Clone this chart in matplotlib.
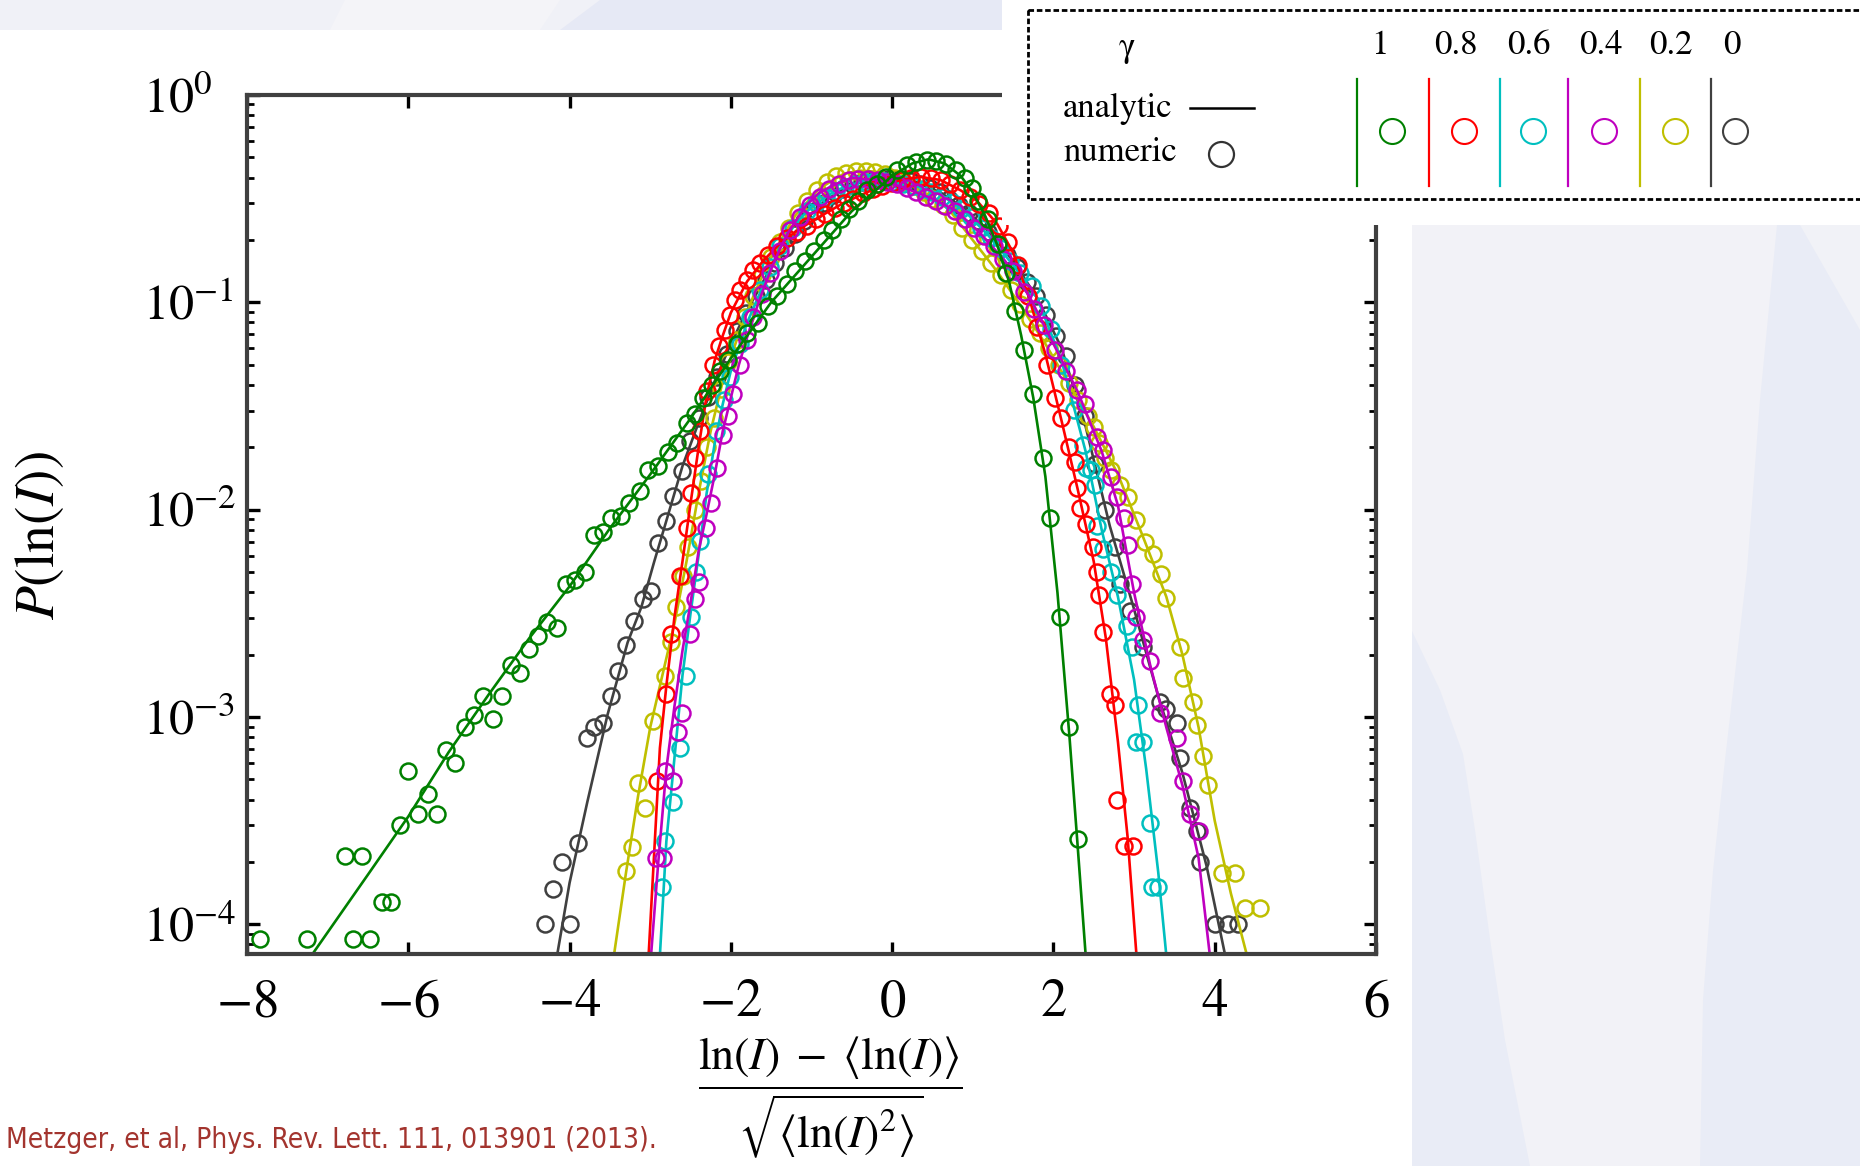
import numpy as np
import matplotlib
matplotlib.use("Agg")
import matplotlib.pyplot as plt
from matplotlib.patches import Rectangle, Polygon
from matplotlib.ticker import LogLocator, NullFormatter

plt.rcParams['mathtext.fontset'] = 'stix'
plt.rcParams['font.family'] = ['STIXGeneral', 'DejaVu Sans']

# ---------------- data (x, log10 P) ----------------
gamma_labels = ['1', '0.8', '0.6', '0.4', '0.2', '0']
colors = {'g1': '#008000', 'g08': '#ff0000', 'g06': '#00bfbf',
          'g04': '#bf00bf', 'g02': '#bfbf00', 'g0': '#404040'}

x_ticks = [-8, -6, -4, -2, 0, 2, 4, 6]
x_tick_labels = ['$-8$', '$-6$', '$-4$', '$-2$', '$0$', '$2$', '$4$', '$6$']
y_ticks = [1e-4, 1e-3, 1e-2, 1e-1, 1e0]
y_tick_labels = ['$10^{-4}$', '$10^{-3}$', '$10^{-2}$', '$10^{-1}$', '$10^{0}$']

# gamma = 1 (green)
g1_line_x = [-7.20, -6.50, -6.00, -5.50, -5.00, -4.50, -4.00, -3.50, -3.00, -2.50, -2.00, -1.50, -1.00, -0.50,
             0.00, 0.25, 0.45, 0.65, 0.85, 1.00, 1.15, 1.30, 1.45, 1.60, 1.75, 1.90, 2.05, 2.20, 2.30, 2.40]
g1_line_lp = [-4.15, -3.76, -3.48, -3.17, -2.89, -2.62, -2.37, -2.09, -1.83, -1.56, -1.27, -1.00, -0.78, -0.56,
              -0.39, -0.33, -0.31, -0.33, -0.39, -0.47, -0.58, -0.72, -0.90, -1.16, -1.46, -1.84, -2.40, -3.10, -3.62, -4.15]
g1_pts_x = [-7.84, -7.25, -6.79, -6.68, -6.57, -6.47, -6.32, -6.22, -6.10, -6.00, -5.875, -5.76, -5.65, -5.53,
            -5.42, -5.30, -5.19, -5.07, -4.95, -4.84, -4.73, -4.61, -4.50, -4.39, -4.28, -4.15, -4.05, -3.93,
            -3.81, -3.70, -3.59, -3.49, -3.36, -3.26, -3.13, -3.03, -2.90, -2.78, -2.67, -2.55, -2.45, -2.34,
            -2.24, -2.13, -2.03, -1.93, -1.80, -1.66, -1.54, -1.43, -1.31, -1.20, -1.08, -0.97, -0.85, -0.75,
            -0.64, -0.53, -0.42, -0.31, -0.19, -0.07, 0.06, 0.18, 0.30, 0.43, 0.55, 0.67, 0.79, 0.90, 0.99,
            1.07, 1.19, 1.31, 1.41, 1.52, 1.63, 1.75, 1.87, 1.96, 2.08, 2.19, 2.31]
g1_pts_lp = [-4.07, -4.07, -3.67, -4.07, -3.67, -4.07, -3.89, -3.89, -3.52, -3.26, -3.47, -3.37, -3.47, -3.16,
             -3.22, -3.05, -2.99, -2.90, -3.01, -2.90, -2.75, -2.79, -2.67, -2.61, -2.54, -2.57, -2.36, -2.34,
             -2.30, -2.12, -2.11, -2.04, -2.03, -1.97, -1.91, -1.81, -1.79, -1.72, -1.68, -1.58, -1.54, -1.46,
             -1.40, -1.33, -1.28, -1.20, -1.15, -1.10, -1.02, -0.97, -0.91, -0.85, -0.80, -0.75, -0.70, -0.65,
             -0.60, -0.55, -0.51, -0.46, -0.43, -0.395, -0.36, -0.338, -0.322, -0.314, -0.32, -0.335, -0.36, -0.40, -0.45,
             -0.51, -0.60, -0.72, -0.86, -1.04, -1.23, -1.44, -1.75, -2.04, -2.52, -3.05, -3.59]

# gamma = 0.8 (red)
g08_line_x = [-3.02, -2.95, -2.88, -2.80, -2.70, -2.60, -2.50, -2.40, -2.30, -2.20, -2.10, -2.00, -1.80, -1.60,
              -1.40, -1.20, -1.00, -0.60, -0.20, 0.10, 0.35, 0.60, 0.85, 1.05, 1.30, 1.50, 1.70, 1.90, 2.10,
              2.30, 2.50, 2.65, 2.80, 2.92, 3.03]
g08_line_lp = [-4.15, -3.65, -3.15, -2.85, -2.52, -2.25, -1.97, -1.70, -1.45, -1.28, -1.16, -1.05, -0.90, -0.80,
               -0.72, -0.66, -0.61, -0.52, -0.45, -0.41, -0.395, -0.41, -0.46, -0.51, -0.62, -0.76, -0.98, -1.25, -1.57,
               -1.90, -2.25, -2.62, -3.12, -3.58, -4.15]
g08_pts_x = [-2.92, -2.80, -2.74, -2.63, -2.55, -2.49, -2.44, -2.38, -2.30, -2.22, -2.15, -2.07, -2.01, -1.95,
             -1.89, -1.80, -1.72, -1.64, -1.54, -1.43, -1.31, -1.18, -1.06, -0.95, -0.83, -0.71, -0.60, -0.48,
             -0.36, -0.24, -0.12, 0.00, 0.12, 0.24, 0.36, 0.48, 0.60, 0.72, 0.84, 0.96, 1.08, 1.20, 1.32, 1.44,
             1.56, 1.68, 1.80, 1.92, 2.02, 2.10, 2.19, 2.27, 2.29, 2.33, 2.41, 2.495, 2.54, 2.56, 2.62, 2.70,
             2.76, 2.785, 2.87, 2.99]
g08_pts_lp = [-3.31, -2.89, -2.60, -2.32, -2.09, -1.92, -1.75, -1.62, -1.43, -1.30, -1.21, -1.135, -1.06, -0.99,
              -0.94, -0.89, -0.845, -0.81, -0.77, -0.73, -0.69, -0.66, -0.63, -0.60, -0.575, -0.545, -0.52, -0.50,
              -0.475, -0.455, -0.44, -0.425, -0.41, -0.40, -0.395, -0.40, -0.41, -0.43, -0.46, -0.49, -0.525, -0.57, -0.63, -0.71,
              -0.82, -0.97, -1.12, -1.30, -1.46, -1.56, -1.70, -1.77, -1.895, -1.99, -2.07, -2.18, -2.30, -2.41, -2.59, -2.89,
              -2.94, -3.40, -3.62, -3.62]

# gamma = 0.6 (cyan)
g06_line_x = [-2.88, -2.80, -2.70, -2.60, -2.50, -2.40, -2.30, -2.20, -2.10, -2.00, -1.80, -1.60, -1.40, -1.20,
              -1.00, -0.70, -0.40, -0.20, 0.00, 0.30, 0.60, 0.90, 1.20, 1.50, 1.80, 2.10, 2.40, 2.60, 2.80, 3.00,
              3.15, 3.30, 3.40]
g06_line_lp = [-4.15, -3.60, -3.20, -2.80, -2.50, -2.22, -1.92, -1.68, -1.49, -1.33, -1.10, -0.92, -0.74, -0.62,
               -0.54, -0.46, -0.42, -0.415, -0.42, -0.44, -0.48, -0.56, -0.68, -0.82, -0.98, -1.28, -1.72, -2.10, -2.42, -2.82,
               -3.25, -3.75, -4.15]
g06_pts_x = [-2.86, -2.82, -2.72, -2.63, -2.56, -2.49, -2.43, -2.38, -2.28, -2.18, -2.09, -2.01, -1.89, -1.76,
             -1.64, -1.52, -1.39, -1.23, -1.06, -0.94, -0.82, -0.70, -0.58, -0.46, -0.34, -0.22, -0.10, 0.02,
             0.14, 0.26, 0.38, 0.50, 0.62, 0.74, 0.86, 0.98, 1.10, 1.22, 1.34, 1.46, 1.58, 1.73, 1.85, 1.97,
             2.10, 2.25, 2.37, 2.41, 2.47, 2.515, 2.54, 2.62, 2.72, 2.785, 2.91, 2.97, 3.05, 3.03, 3.11, 3.20,
             3.22, 3.30]
g06_pts_lp = [-3.82, -3.60, -3.41, -3.15, -2.80, -2.52, -2.30, -2.15, -1.83, -1.62, -1.47, -1.36, -1.20, -1.07,
              -0.94, -0.83, -0.73, -0.64, -0.56, -0.52, -0.49, -0.465, -0.445, -0.43, -0.42, -0.415, -0.415, -0.42,
              -0.43, -0.44, -0.455, -0.47, -0.49, -0.515, -0.55, -0.59, -0.64, -0.69, -0.74, -0.80, -0.86, -0.92, -1.02, -1.13,
              -1.30, -1.52, -1.69, -1.80, -1.81, -1.88, -2.08, -2.19, -2.30, -2.41, -2.56, -2.66, -2.94, -3.12, -3.12, -3.51,
              -3.82, -3.82]

# gamma = 0.4 (magenta)
g04_line_x = [-2.99, -2.90, -2.80, -2.70, -2.60, -2.50, -2.40, -2.30, -2.20, -2.10, -2.00, -1.90, -1.80, -1.70,
              -1.60, -1.50, -1.40, -1.30, -1.20, -1.06, -0.90, -0.70, -0.50, -0.20, 0.10, 0.50, 0.80, 1.10, 1.40,
              1.70, 2.00, 2.30, 2.60, 2.80, 3.00, 3.20, 3.40, 3.60, 3.80, 3.94]
g04_line_lp = [-4.15, -3.70, -3.25, -2.95, -2.68, -2.45, -2.20, -2.02, -1.83, -1.62, -1.46, -1.30, -1.17, -1.05,
               -0.94, -0.84, -0.75, -0.67, -0.61, -0.53, -0.47, -0.43, -0.40, -0.41, -0.44, -0.50, -0.56, -0.67, -0.80,
               -0.97, -1.20, -1.43, -1.72, -1.98, -2.40, -2.75, -3.05, -3.33, -3.68, -4.15]
g04_pts_x = [-2.93, -2.84, -2.82, -2.72, -2.65, -2.60, -2.51, -2.45, -2.39, -2.31, -2.25, -2.17, -2.10, -2.04,
             -1.97, -1.89, -1.80, -1.72, -1.62, -1.51, -1.39, -1.27, -1.14, -1.02, -0.90, -0.78, -0.66, -0.54,
             -0.42, -0.30, -0.18, -0.06, 0.06, 0.18, 0.30, 0.42, 0.54, 0.66, 0.78, 0.90, 1.02, 1.14, 1.26, 1.38,
             1.50, 1.63, 1.76, 1.88, 2.02, 2.16, 2.29, 2.39, 2.54, 2.62, 2.72, 2.79, 2.87, 2.93, 2.97, 3.03,
             3.11, 3.20, 3.32, 3.53, 3.61, 3.69, 3.80]
g04_pts_lp = [-3.68, -3.68, -3.26, -3.31, -3.07, -2.98, -2.60, -2.43, -2.35, -2.09, -1.97, -1.80, -1.64, -1.55,
              -1.44, -1.30, -1.18, -1.07, -0.96, -0.86, -0.75, -0.65, -0.59, -0.53, -0.49, -0.455, -0.43, -0.41,
              -0.405, -0.405, -0.41, -0.42, -0.43, -0.45, -0.47, -0.49, -0.51, -0.535, -0.56, -0.60, -0.64, -0.68, -0.73, -0.79,
              -0.85, -0.95, -1.03, -1.11, -1.23, -1.33, -1.425, -1.49, -1.65, -1.71, -1.84, -1.94, -2.04, -2.17, -2.36, -2.52,
              -2.63, -2.73, -2.98, -3.10, -3.31, -3.47, -3.55]

# gamma = 0.2 (yellow)
g02_line_x = [-3.45, -3.30, -3.15, -3.00, -2.85, -2.70, -2.55, -2.40, -2.25, -2.10, -1.90, -1.70, -1.50, -1.20,
              -0.90, -0.60, -0.40, -0.20, 0.10, 0.40, 0.70, 1.00, 1.30, 1.60, 1.90, 2.20, 2.50, 2.80, 3.10, 3.40,
              3.60, 3.80, 4.00, 4.20, 4.40]
g02_line_lp = [-4.15, -3.75, -3.38, -3.05, -2.80, -2.55, -2.25, -1.92, -1.62, -1.38, -1.15, -0.95, -0.78, -0.58,
               -0.45, -0.38, -0.365, -0.37, -0.41, -0.47, -0.55, -0.70, -0.85, -1.02, -1.20, -1.40, -1.60, -1.83, -2.12, -2.42,
               -2.70, -3.05, -3.50, -3.85, -4.15]
g02_pts_x = [-3.30, -3.22, -3.15, -3.07, -2.97, -2.82, -2.74, -2.675, -2.59, -2.53, -2.45, -2.37, -2.29, -2.21,
             -2.12, -2.03, -1.93, -1.83, -1.72, -1.61, -1.50, -1.39, -1.28, -1.17, -1.05, -0.93, -0.81, -0.69,
             -0.57, -0.45, -0.33, -0.21, -0.09, 0.03, 0.15, 0.27, 0.39, 0.51, 0.63, 0.75, 0.87, 0.99, 1.11, 1.23,
             1.35, 1.47, 1.59, 1.71, 1.83, 1.95, 2.07, 2.19, 2.31, 2.43, 2.50, 2.56, 2.64, 2.72, 2.83, 2.93,
             3.03, 3.135, 3.24, 3.34, 3.40, 3.57, 3.61, 3.735, 3.78, 3.86, 3.92, 4.085, 4.25, 4.375, 4.56]
g02_pts_lp = [-3.745, -3.625, -3.32, -3.44, -3.02, -2.80, -2.64, -2.47, -2.32, -2.18, -2.00, -1.86, -1.70, -1.56,
              -1.42, -1.29, -1.18, -1.07, -0.97, -0.87, -0.78, -0.71, -0.64, -0.57, -0.51, -0.46, -0.42, -0.39,
              -0.375, -0.365, -0.365, -0.37, -0.38, -0.40, -0.42, -0.44, -0.47, -0.50, -0.53, -0.58, -0.64, -0.70, -0.75, -0.81,
              -0.87, -0.94, -1.01, -1.08, -1.15, -1.22, -1.30, -1.39, -1.47, -1.55, -1.60, -1.68, -1.75, -1.81, -1.88, -1.94,
              -2.05, -2.155, -2.215, -2.31, -2.425, -2.66, -2.81, -2.93, -3.04, -3.19, -3.33, -3.75, -3.75, -3.92, -3.92]

# gamma = 0 (dark gray)
g0_line_x = [-4.155, -4.00, -3.78, -3.53, -3.28, -3.11, -2.95, -2.82, -2.60, -2.40, -2.20, -2.00, -1.80, -1.50,
             -1.20, -0.90, -0.60, -0.30, 0.00, 0.30, 0.60, 0.90, 1.20, 1.50, 1.80, 2.10, 2.40, 2.70, 3.00, 3.30,
             3.60, 3.90, 4.13]
g0_line_lp = [-4.15, -3.80, -3.41, -2.99, -2.64, -2.47, -2.25, -2.08, -1.79, -1.58, -1.38, -1.20, -1.04, -0.83,
              -0.66, -0.53, -0.45, -0.41, -0.40, -0.42, -0.47, -0.55, -0.66, -0.80, -0.98, -1.22, -1.60, -2.08, -2.48, -2.90,
              -3.27, -3.72, -4.15]
g0_pts_x = [-4.30, -4.20, -4.09, -3.99, -3.90, -3.78, -3.70, -3.59, -3.49, -3.40, -3.30, -3.20, -3.09, -2.99,
            -2.90, -2.80, -2.72, -2.61, -2.51, -2.40, -2.28, -2.17, -2.05, -1.93, -1.81, -1.69, -1.57, -1.45,
            -1.33, -1.21, -1.09, -0.97, -0.85, -0.73, -0.61, -0.49, -0.37, -0.25, -0.13, -0.01, 0.11, 0.23, 0.35,
            0.47, 0.59, 0.71, 0.83, 0.95, 1.07, 1.19, 1.31, 1.43, 1.55, 1.67, 1.79, 1.91, 2.03, 2.15, 2.27,
            2.39, 2.51, 2.64, 2.76, 2.83, 2.95, 3.11, 3.32, 3.40, 3.53, 3.57, 3.69, 3.78, 3.82, 4.00, 4.17, 4.29]
g0_pts_lp = [-4.00, -3.83, -3.70, -4.00, -3.61, -3.10, -3.05, -3.03, -2.90, -2.78, -2.655, -2.535, -2.43, -2.39,
             -2.16, -2.055, -1.935, -1.815, -1.67, -1.557, -1.455, -1.36, -1.25, -1.14, -1.05, -0.97, -0.89, -0.81,
             -0.74, -0.67, -0.61, -0.56, -0.52, -0.48, -0.455, -0.435, -0.42, -0.41, -0.405, -0.40, -0.405, -0.415, -0.43,
             -0.45, -0.47, -0.50, -0.53, -0.57, -0.61, -0.66, -0.72, -0.77, -0.83, -0.90, -0.97, -1.06, -1.16, -1.26, -1.40,
             -1.55, -1.78, -2.00, -2.18, -2.36, -2.49, -2.66, -2.93, -2.96, -3.03, -3.20, -3.44, -3.55, -3.70, -4.00, -4.00, -4.00]

series = [  # drawing order: bottom -> top
    ('g0', g0_line_x, g0_line_lp, g0_pts_x, g0_pts_lp),
    ('g02', g02_line_x, g02_line_lp, g02_pts_x, g02_pts_lp),
    ('g06', g06_line_x, g06_line_lp, g06_pts_x, g06_pts_lp),
    ('g08', g08_line_x, g08_line_lp, g08_pts_x, g08_pts_lp),
    ('g04', g04_line_x, g04_line_lp, g04_pts_x, g04_pts_lp),
    ('g1', g1_line_x, g1_line_lp, g1_pts_x, g1_pts_lp),
]
legend_keys = ['g1', 'g08', 'g06', 'g04', 'g02', 'g0']

# ---------------- figure ----------------
W, H, DPI = 1860, 1166, 100
fig = plt.figure(figsize=(W / DPI, H / DPI), dpi=DPI)

# slide background + white picture area (pixel coordinates)
bg = fig.add_axes([0, 0, 1, 1], zorder=-10)
bg.set_xlim(0, W); bg.set_ylim(H, 0); bg.axis('off')
bg.add_patch(Rectangle((0, 0), W, H, color='#e9ecf6', lw=0))
bg.add_patch(Polygon([(1412, 225), (1777, 225), (1760, 400), (1747, 570), (1725, 760), (1713, 871), (1703, 1000),
                      (1700, 1166), (1530, 1166), (1505, 1040), (1490, 939), (1475, 830), (1463, 754), (1440, 690),
                      (1412, 631)], closed=True, color='#f2f2f7', lw=0))
bg.add_patch(Polygon([(1800, 225), (1860, 225), (1860, 330)], closed=True, color='#f1f2f7', lw=0))
bg.add_patch(Rectangle((0, 0), 1002, 30, color='#f0f1f7', lw=0))
bg.add_patch(Polygon([(560, 30), (600, 0), (1002, 0), (1002, 30)], closed=True, color='#e6e9f5', lw=0))
bg.add_patch(Polygon([(330, 30), (345, 0), (560, 0), (540, 30)], closed=True, color='#f4f4f8', lw=0))
bg.add_patch(Rectangle((0, 30), 1412, H - 30, color='white', lw=0))

# main axes
ax_l, ax_r, ax_t, ax_b = 247, 1376, 95, 954
ax = fig.add_axes([ax_l / W, 1 - ax_b / H, (ax_r - ax_l) / W, (ax_b - ax_t) / H])
ax.set_facecolor('none')
ax.set_yscale('log')

for key, lx, lp, px, pp in series:
    c = colors[key]
    ax.plot(lx, 10.0 ** np.array(lp), '-', color=c, lw=1.9, solid_capstyle='butt')
    ax.plot(px, 10.0 ** np.array(pp), 'o', mfc='none', mec=c, ms=11.5, mew=1.8, ls='none')

ax.set_xlim(-8, 6)
ax.set_ylim(10 ** -4.143, 1.0)
ax.set_xticks(x_ticks)
ax.set_xticklabels(x_tick_labels, fontsize=38)
ax.set_yticks(y_ticks)
ax.set_yticklabels(y_tick_labels, fontsize=36)
ax.yaxis.set_minor_locator(LogLocator(base=10, subs=np.arange(2, 10)))
ax.yaxis.set_minor_formatter(NullFormatter())
ax.tick_params(which='both', direction='in', top=True, right=True, colors='black')
ax.tick_params(which='major', length=9, width=2.4)
ax.tick_params(which='minor', length=5, width=2.0)
ax.tick_params(axis='x', which='major', pad=18)
ax.tick_params(axis='y', which='major', pad=75)
plt.setp(ax.get_yticklabels(), ha='left')
for s in ax.spines.values():
    s.set_linewidth(3.0)
    s.set_color('#404040')

ax.set_xlabel(r'$\dfrac{\ln(I)\;-\;\langle\ln(I)\rangle}{\sqrt{\langle\ln(I)^2\rangle}}$', fontsize=33)
ax.xaxis.set_label_coords((830 - ax_l) / (ax_r - ax_l), (ax_b - 1034) / (ax_b - ax_t))
ax.set_ylabel(r'$P(\ln(I))$', fontsize=40)
ax.yaxis.set_label_coords((66 - ax_l) / (ax_r - ax_l), (ax_b - 536) / (ax_b - ax_t))

# ---------------- legend box (pixel coordinates), drawn over the axes ----------------
lg = fig.add_axes([0, 0, 1, 1], zorder=5)
lg.set_xlim(0, W); lg.set_ylim(H, 0); lg.axis('off')
lg.add_patch(Rectangle((1002, 0), W - 1002, 225, color='white', lw=0))
lg.add_patch(Rectangle((1028, 10), 900, 189, fill=False, ec='black', lw=2.0, ls=(0, (2.0, 1.0))))
lg.text(1127, 48, 'γ', fontsize=25, ha='center', va='center', family=['STIXGeneral', 'DejaVu Sans'])
num_x = [1380, 1456, 1529, 1601, 1671, 1732]
for lbl, xx in zip(gamma_labels, num_x):
    lg.text(xx, 46, lbl, fontsize=25, ha='center', va='center')
lg.text(1063, 109, 'analytic', fontsize=25, ha='left', va='center')
lg.text(1063, 153, 'numeric', fontsize=25, ha='left', va='center')
lg.plot([1190, 1254], [108, 108], color='black', lw=1.8)
lg.plot([1221], [154], 'o', mfc='none', mec='#333333', ms=18, mew=1.6)
vline_x = [1357, 1429, 1500, 1568, 1640, 1711]
circ_x = [1392, 1464, 1533, 1604, 1675, 1735]
for key, vx, cx in zip(legend_keys, vline_x, circ_x):
    lg.plot([vx, vx], [79, 186], color=colors[key], lw=1.6)
    lg.plot([cx], [131], 'o', mfc='none', mec=colors[key], ms=18, mew=1.5)

# ---------------- citation ----------------
cite_text = 'Metzger, et al, Phys. Rev. Lett. 111, 013901 (2013).'
cite = fig.text(6 / W, 1 - 1148 / H, cite_text, color='#a3342e', fontsize=26,
                family=['DejaVu Sans'], fontstretch='condensed', ha='left', va='baseline')
fig.canvas.draw()
bb = cite.get_window_extent()
cite.set_fontsize(26 * 652.0 / bb.width)

fig.savefig('out.png', dpi=DPI)
